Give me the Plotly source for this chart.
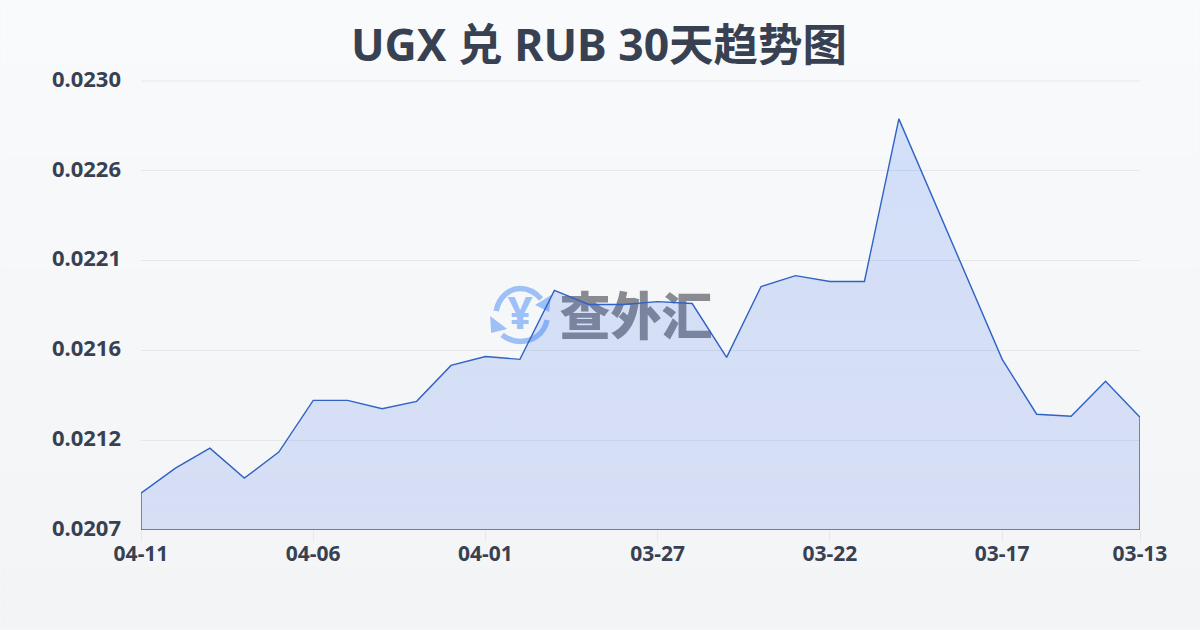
import plotly.graph_objects as go

dates = ['04-11', '04-10', '04-09', '04-08', '04-07', '04-06', '04-05', '04-04', '04-03', '04-02',
         '04-01', '03-31', '03-30', '03-29', '03-28', '03-27', '03-26', '03-25', '03-24', '03-23',
         '03-22', '03-21', '03-20', '03-19', '03-18', '03-17', '03-16', '03-15', '03-14', '03-13']
rates = [0.020889, 0.021017, 0.021119, 0.020966, 0.021099, 0.021364, 0.021364, 0.021321, 0.021359, 0.021543,
         0.021589, 0.021574, 0.021927, 0.021855, 0.021855, 0.021870, 0.021860, 0.021584, 0.021947, 0.022003,
         0.021973, 0.021973, 0.022806, 0.022397, 0.021983, 0.021574, 0.021293, 0.021283, 0.021462, 0.021278]
x_ticks = ['04-11', '04-06', '04-01', '03-27', '03-22', '03-17', '03-13']
y_ticks = [0.0207, 0.02116, 0.02162, 0.02208, 0.02254, 0.0230]
y_labels = ['0.0207', '0.0212', '0.0216', '0.0221', '0.0226', '0.0230']
y_min = 0.0207
y_max = 0.0230

W, H = 1200, 630
L, R, T, B = 140.5, 1140.5, 80.5, 530.5
LOGO = '#9dc0f7'
INK = '#374151'
GRID = '#e5e7eb'


# watermark and background are placed in pixels, converted to paper coords
def px(v):
    return (v - L) / (R - L)


def py(v):
    return (B - v) / (B - T)


def pt(x, y):
    return '%.5f,%.5f' % (px(x), py(y))


# same pixels, but in data coords for the text traces
def data_x(v):
    return px(v) * (len(dates) - 1)


def data_y(v):
    return y_min + py(v) * (y_max - y_min)


x_idx = list(range(len(dates)))

fig = go.Figure()

# watermark goes first so the area and line sit on top of it
fig.add_trace(go.Scatter(
    x=[data_x(636)], y=[data_y(322)],
    mode='text', text=['查外汇'], textposition='middle center',
    textfont=dict(family='Noto Sans CJK SC', size=51, color='#8a8b90', weight=900),
    hoverinfo='skip', showlegend=False
))
fig.add_trace(go.Scatter(
    x=[data_x(520)], y=[data_y(318)],
    mode='text', text=['¥'], textposition='middle center',
    textfont=dict(family='Noto Sans', size=44, color=LOGO, weight=700),
    hoverinfo='skip', showlegend=False
))

# closed polygon so the outline also runs down the sides and along the bottom
fig.add_trace(go.Scatter(
    x=x_idx + [x_idx[-1], x_idx[0], x_idx[0]],
    y=rates + [y_min, y_min, rates[0]],
    mode='lines',
    fill='toself',
    fillgradient=dict(
        type='vertical',
        colorscale=[[0, 'rgba(30,85,225,0.14)'], [1, 'rgba(30,100,240,0.17)']]
    ),
    line=dict(color='#2f62c4', width=1.4),
    cliponaxis=False,
    hoverinfo='skip',
    showlegend=False
))

shapes = []

# page background, light vertical gradient
bands = 40
top = (249, 250, 252)
bottom = (243, 244, 246)
for i in range(bands):
    t = i / (bands - 1)
    c = [round(top[k] + (bottom[k] - top[k]) * t) for k in range(3)]
    shapes.append(dict(
        type='rect', xref='paper', yref='paper', layer='below',
        x0=px(0), x1=px(W),
        y0=py(H * i / bands), y1=py(H * (i + 1) / bands),
        fillcolor='rgb(%d,%d,%d)' % tuple(c), line=dict(width=0)
    ))

# plotly skips the grid line at the very top of the range
shapes.append(dict(type='line', xref='paper', yref='paper', layer='below',
                   x0=0, x1=1, y0=1, y1=1, line=dict(color=GRID, width=1)))

# logo ring, two arcs with arrow heads
logo_lines = [
    'M' + pt(496, 311) + ' C' + pt(499, 296) + ' ' + pt(510, 288.5) + ' ' + pt(520, 288.5)
    + ' C' + pt(528, 288.5) + ' ' + pt(535, 292) + ' ' + pt(541, 299),
    'M' + pt(547, 320) + ' C' + pt(544, 334) + ' ' + pt(533, 341.5) + ' ' + pt(520, 341.5)
    + ' C' + pt(513, 341.5) + ' ' + pt(507, 339) + ' ' + pt(502, 335),
]
logo_heads = [
    'M' + pt(551, 295) + ' L' + pt(549, 312) + ' L' + pt(535, 305) + ' Z',
    'M' + pt(490, 316) + ' L' + pt(491, 333) + ' L' + pt(507, 329) + ' Z',
]
for p in logo_lines:
    shapes.append(dict(type='path', xref='paper', yref='paper', layer='below',
                       path=p, line=dict(color=LOGO, width=5.5)))
for p in logo_heads:
    shapes.append(dict(type='path', xref='paper', yref='paper', layer='below',
                       path=p, fillcolor=LOGO, line=dict(width=0)))

fig.update_layout(
    width=W,
    height=H,
    margin=dict(l=L, r=W - R, t=T, b=H - B),
    paper_bgcolor='#f6f7f9',
    plot_bgcolor='rgba(0,0,0,0)',
    title=dict(
        text='UGX 兑 RUB 30天趋势图',
        x=599 / W, xanchor='center', xref='container',
        y=1 - 45 / H, yanchor='middle',
        font=dict(family='Noto Sans, Noto Sans CJK SC', size=44.5, color=INK, weight=700)
    ),
    xaxis=dict(
        range=[0, len(dates) - 1],
        tickmode='array',
        tickvals=[dates.index(d) for d in x_ticks],
        ticktext=x_ticks,
        ticks='outside', ticklen=10, tickcolor=GRID, tickwidth=1,
        ticklabelstandoff=-5,
        showgrid=False, zeroline=False, showline=False,
        tickfont=dict(family='Noto Sans', size=21, color=INK, weight=700)
    ),
    yaxis=dict(
        range=[y_min, y_max],
        tickmode='array',
        tickvals=y_ticks,
        ticktext=y_labels,
        ticks='', ticklabelstandoff=19, ticklabelshift=-2,
        showgrid=True, gridcolor=GRID, gridwidth=1,
        zeroline=False, showline=False,
        tickfont=dict(family='Noto Sans', size=22, color=INK, weight=700)
    ),
    shapes=shapes
)

# the default page keeps an 8px body margin
fig.write_html('out.html', config={'displayModeBar': False},
               post_script='document.body.style.margin = "0";')
